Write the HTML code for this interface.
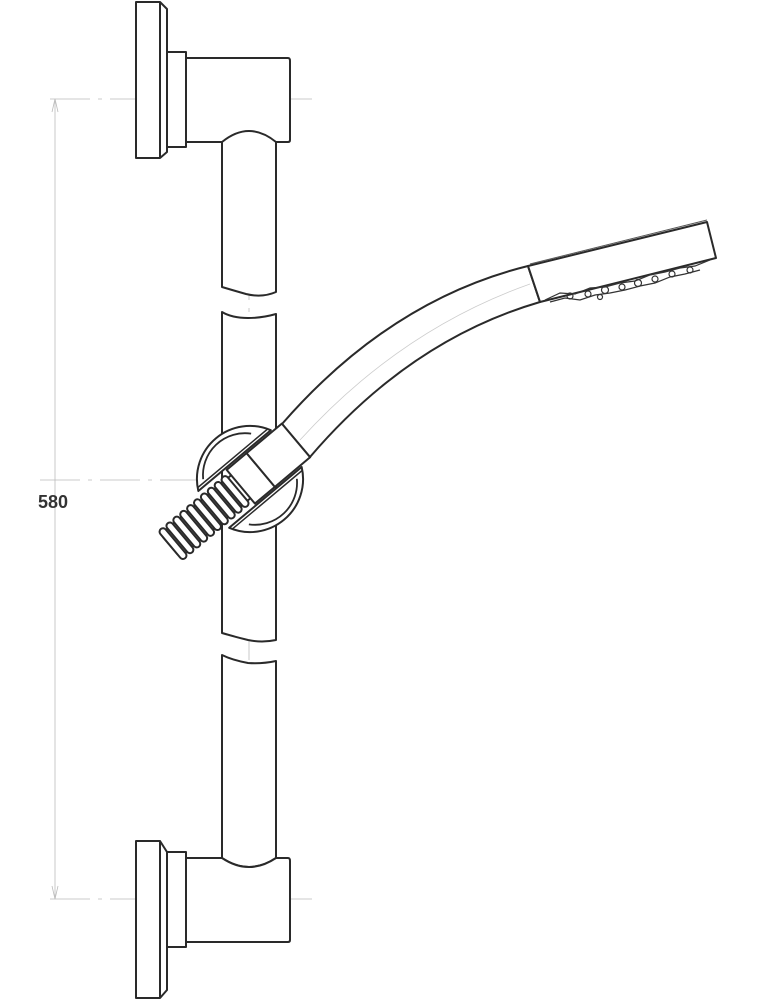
<!DOCTYPE html>
<html><head><meta charset="utf-8"><style>
html,body{margin:0;padding:0;background:#fff;}
svg{display:block}
</style></head><body>
<svg width="760" height="1000" viewBox="0 0 760 1000" xmlns="http://www.w3.org/2000/svg">
<g fill="none" stroke="#bbb" stroke-width="0.8">
  <line x1="50" y1="99" x2="312" y2="99" stroke-dasharray="40 8 4 8"/>
  <line x1="50" y1="899" x2="312" y2="899" stroke-dasharray="40 8 4 8"/>
  <line x1="40" y1="480" x2="262" y2="480" stroke-dasharray="40 8 4 8"/>
  <line x1="249" y1="80" x2="249" y2="940" stroke-dasharray="40 8 4 8"/>
  <line x1="55" y1="99" x2="55" y2="899"/>
  <path d="M52 112 L55 99 L58 112 M52 886 L55 899 L58 886"/>
</g>
<text x="38" y="508" font-family="Liberation Sans, sans-serif" font-weight="bold" font-size="18" fill="#333">580</text>
<g fill="#fff" stroke="#2a2a2a" stroke-width="2" stroke-linejoin="round">
  <path d="M136 2 H160 L167 9 V152 L160 158 H136 Z"/>
  <line x1="160" y1="2" x2="160" y2="158"/>
  <rect x="167" y="52" width="19" height="95"/>
  <path d="M186 58 H288 Q290 58 290 61 V140 Q290 142 288 142 H186 Z"/>
  <path d="M222 142 Q249 120 276 142 V292 Q262 298 246 294 Q232 290 222 287 Z"/>
  <path d="M222 312 Q232 318 248 318 Q262 318 276 314 V640 Q262 643 248 640 Q232 636 222 633 Z"/>
  <path d="M222 655 Q232 660 248 663 Q262 664 276 661 V858 Q249 876 222 858 Z"/>
  <path d="M136 841 H160 L167 852 V990 L160 998 H136 Z"/>
  <line x1="160" y1="841" x2="160" y2="998"/>
  <rect x="167" y="852" width="19" height="95"/>
  <path d="M186 858 H222 Q249 876 276 858 H288 Q290 858 290 861 V940 Q290 942 288 942 H186 Z"/>
  <path d="M282 424 Q390 300 528 266 L540 302 Q410 340 310 457 Z"/>
  <path d="M528 266 L707 222 L716 258 L540 302 Z"/>
</g>
<path d="M300 440 Q400 330 530 284" fill="none" stroke="#ccc" stroke-width="0.8"/>
<path d="M530 264 L707 220" fill="none" stroke="#555" stroke-width="1"/>
<g fill="none" stroke="#333" stroke-width="1.2">
  <path d="M545 300 L560 293 L575 294 L590 288 L605 287 L620 283 L635 281 L650 275 L665 272 L680 268 L695 266 L710 260"/>
  <path d="M550 302 L565 298 L580 300 L595 295 L610 293 L625 290 L640 286 L655 283 L670 277 L685 274 L700 270"/>
  <circle cx="570" cy="296" r="3"/><circle cx="588" cy="294" r="3"/><circle cx="605" cy="290" r="3.5"/>
  <circle cx="622" cy="287" r="3"/><circle cx="638" cy="283" r="3.5"/><circle cx="655" cy="279" r="3"/>
  <circle cx="672" cy="274" r="3"/><circle cx="690" cy="270" r="3"/><circle cx="600" cy="297" r="2.5"/>
</g>
<g transform="translate(250,479) rotate(-40)" fill="#fff" stroke="#2a2a2a" stroke-width="2" stroke-linejoin="round">
  <g>
    <rect x="-104" y="-15" width="95" height="30" rx="4"/>
    <rect x="-104" y="-19" width="7" height="38" rx="3.5"/>
    <rect x="-95" y="-19" width="7" height="38" rx="3.5"/>
    <rect x="-86" y="-19" width="7" height="38" rx="3.5"/>
    <rect x="-77" y="-19" width="7" height="38" rx="3.5"/>
    <rect x="-68" y="-19" width="7" height="38" rx="3.5"/>
    <rect x="-59" y="-19" width="7" height="38" rx="3.5"/>
    <rect x="-50" y="-19" width="7" height="38" rx="3.5"/>
    <rect x="-41" y="-19" width="7" height="38" rx="3.5"/>
    <rect x="-32" y="-19" width="7" height="38" rx="3.5"/>
    <rect x="-23" y="-19" width="7" height="38" rx="3.5"/>
  </g>
  <rect x="-12" y="-22" width="26" height="44"/>
  <rect x="14" y="-22" width="46" height="44"/>
  <path d="M-47.3 -24 A53 53 0 0 1 47.3 -24 Z"/>
  <line x1="-45" y1="-27" x2="45" y2="-27" stroke-width="1.5"/>
  <path d="M-36 -30 A42 42 0 0 1 30 -34" fill="none" stroke-width="1.8"/>
  <path d="M47.3 24 A53 53 0 0 1 -47.3 24 Z"/>
  <line x1="-45" y1="27" x2="45" y2="27" stroke-width="1.5"/>
  <path d="M36 30 A42 42 0 0 1 -30 34" fill="none" stroke-width="1.8"/>
</g>
</svg>
</body></html>
